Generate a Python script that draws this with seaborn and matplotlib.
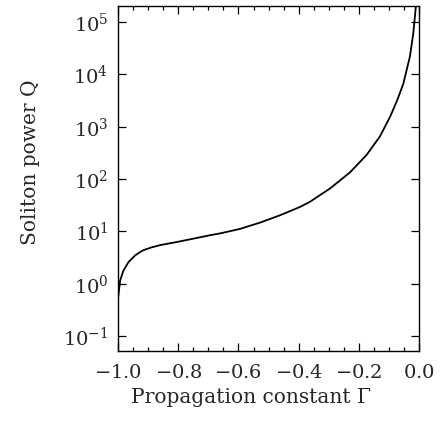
import numpy as np
import pandas as pd
import seaborn as sns
import matplotlib
matplotlib.use("Agg")
import matplotlib.pyplot as plt
from matplotlib.ticker import FixedLocator, MultipleLocator, NullLocator, LogFormatterMathtext

# values
gamma = [-1.0, -0.9934, -0.9824, -0.9658, -0.9435, -0.93, -0.916, -0.89,
         -0.86, -0.805, -0.75, -0.694, -0.661, -0.595, -0.528, -0.462,
         -0.395, -0.362, -0.335, -0.296, -0.229, -0.174, -0.130, -0.096,
         -0.072, -0.052, -0.030, -0.019, -0.013, -0.010]
power = [0.56, 1.17, 1.8, 2.6, 3.5, 3.95, 4.4, 4.95,
         5.5, 6.3, 7.3, 8.5, 9.2, 11.2, 14.8, 20.4,
         29.5, 37, 47, 66, 135, 290, 650, 1550,
         3240, 6600, 2.2e4, 6e4, 1.35e5, 2.04e5]
xticks = [-1.0, -0.8, -0.6, -0.4, -0.2, 0.0]
ydecades = [1e-1, 1e0, 1e1, 1e2, 1e3, 1e4, 1e5]

df = pd.DataFrame({"gamma": gamma, "Q": power})

sns.set_style("ticks")
plt.rcParams["font.family"] = ["DejaVu Serif"]
plt.rcParams["mathtext.fontset"] = "dejavuserif"

fig = plt.figure(figsize=(4.41, 4.22), dpi=100)
ax = fig.add_axes([0.268, 0.168, 0.682, 0.818])

sns.lineplot(data=df, x="gamma", y="Q", ax=ax, color="black",
             linewidth=1.3, sort=False, estimator=None)

ax.set_yscale("log")
ax.set_xlim(-1.0, 0.0)
ax.set_ylim(0.052, 2.03e5)

ax.xaxis.set_major_locator(FixedLocator(xticks))
ax.xaxis.set_minor_locator(MultipleLocator(0.05))
ax.set_xticklabels([f"${t:.1f}$" for t in xticks])
ax.yaxis.set_major_locator(FixedLocator(ydecades))
ax.yaxis.set_major_formatter(LogFormatterMathtext())
ax.yaxis.set_minor_locator(NullLocator())

ax.tick_params(which="both", direction="in", top=True, right=True,
               labelsize=14, color="black", width=0.9)
ax.tick_params(which="major", length=6)
ax.tick_params(axis="x", which="major", pad=9)
ax.tick_params(axis="y", which="major", pad=7)
ax.tick_params(which="minor", length=3)
for s in ax.spines.values():
    s.set_linewidth(1.0)
    s.set_color("black")

ax.set_xlabel("Propagation constant Γ", fontsize=14.5)
ax.set_ylabel("Soliton power Q", fontsize=14.5)
ax.xaxis.set_label_coords(0.443, -0.107)
ax.yaxis.set_label_coords(-0.259, 0.548)

fig.savefig("out.png", dpi=100)
